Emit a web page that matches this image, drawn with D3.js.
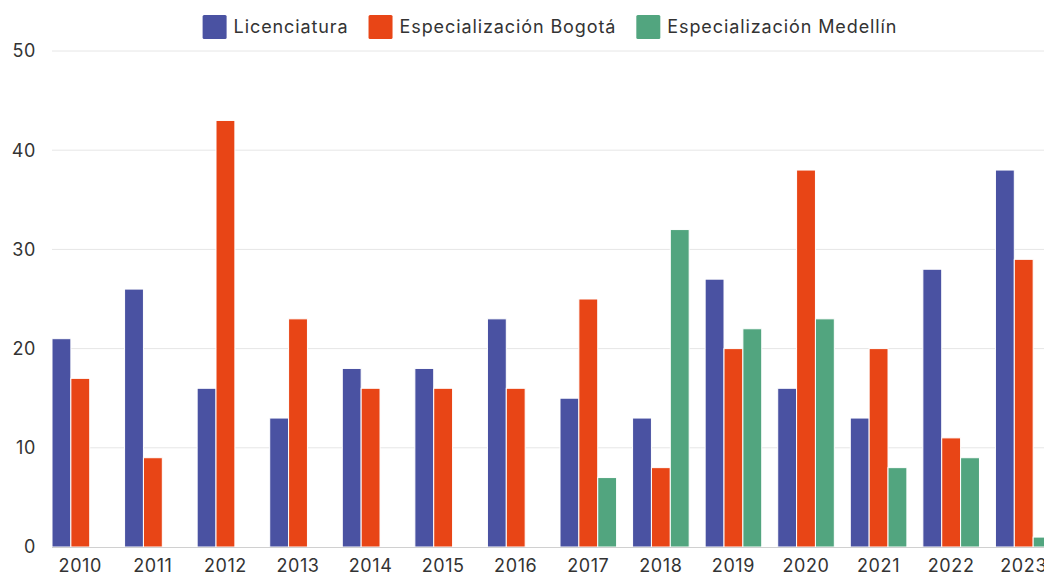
<!DOCTYPE html>
<html>
<head>
<meta charset="utf-8">
<script src="https://cdn.jsdelivr.net/npm/d3@7"></script>
<style>
  body { margin: 0; background: #fff; }
  text { font-family: "Inter", "Noto Sans", sans-serif; fill: #333; }
</style>
</head>
<body>
<svg id="chart"></svg>
<script>
var width = 1044, height = 575;

// data
var years = ['2010', '2011', '2012', '2013', '2014', '2015', '2016', '2017', '2018', '2019', '2020', '2021', '2022', '2023'];
var series = ['Licenciatura', 'Especialización Bogotá', 'Especialización Medellín'];
var licenciatura = [21, 26, 16, 13, 18, 18, 23, 15, 13, 27, 16, 13, 28, 38];
var bogota = [17, 9, 43, 23, 16, 16, 16, 25, 8, 20, 38, 20, 11, 29];
var medellin = [0, 0, 0, 0, 0, 0, 0, 7, 32, 22, 23, 8, 9, 1];
var yTicks = [0, 10, 20, 30, 40, 50];
var colors = ['#4a52a2', '#e84516', '#52a57f'];

var values = [licenciatura, bogota, medellin];

var svg = d3.select('#chart')
    .attr('width', width)
    .attr('height', height);

var x = d3.scaleBand().domain(years).range([44, 1060]).padding(0);
var x1 = d3.scaleBand().domain(series).range([8, 64.6]).padding(0);
var y = d3.scaleLinear().domain([0, 50]).range([547, 51]);

// grid lines
svg.append('g')
    .selectAll('line')
    .data(yTicks.slice(1))
    .enter().append('line')
    .attr('x1', 52)
    .attr('x2', width)
    .attr('y1', function (d) { return y(d); })
    .attr('y2', function (d) { return y(d); })
    .attr('stroke', '#e6e6e6')
    .attr('stroke-width', 1);

// y labels
svg.append('g')
    .selectAll('text')
    .data(yTicks)
    .enter().append('text')
    .attr('x', 36)
    .attr('y', function (d) { return y(d); })
    .attr('dy', '0.35em')
    .attr('text-anchor', 'end')
    .style('font-size', '18px')
    .style('letter-spacing', '0.6px')
    .text(function (d) { return d; });

// bars
var groups = svg.append('g')
    .selectAll('g')
    .data(years)
    .enter().append('g')
    .attr('transform', function (d) { return 'translate(' + x(d) + ',0)'; });

groups.selectAll('rect')
    .data(function (d, i) {
        return series.map(function (s, j) { return { key: s, value: values[j][i], idx: j }; });
    })
    .enter().append('rect')
    .filter(function (d) { return d.value > 0; })
    .attr('x', function (d) { return x1(d.key); })
    .attr('width', x1.bandwidth())
    .attr('y', function (d) { return y(d.value); })
    .attr('height', function (d) { return y(0) - y(d.value); })
    .attr('fill', function (d) { return colors[d.idx]; })
    .attr('stroke', '#fff')
    .attr('stroke-width', 1);

// x axis line
svg.append('line')
    .attr('x1', 52)
    .attr('x2', width)
    .attr('y1', y(0) + 0.5)
    .attr('y2', y(0) + 0.5)
    .attr('stroke', '#d0d0d0');

// x labels
svg.append('g')
    .selectAll('text')
    .data(years)
    .enter().append('text')
    .attr('x', function (d) { return x(d) + x.bandwidth() / 2; })
    .attr('y', 566)
    .attr('dy', '0.35em')
    .attr('text-anchor', 'middle')
    .style('font-size', '18px')
    .style('letter-spacing', '0.6px')
    .text(function (d) { return d; });

// legend
var legend = svg.append('g');
var lx = 0;
series.forEach(function (s, i) {
    var item = legend.append('g').attr('transform', 'translate(' + lx + ',0)');
    item.append('rect')
        .attr('x', 0).attr('y', 15)
        .attr('width', 24).attr('height', 24)
        .attr('rx', 1.5)
        .attr('fill', colors[i]);
    var t = item.append('text')
        .attr('x', 31)
        .attr('y', 26.5)
        .attr('dy', '0.35em')
        .style('font-size', '18px')
        .style('letter-spacing', '0.9px')
        .text(s);
    lx += 31 + t.node().getComputedTextLength() + 20;
});
var legendWidth = lx - 20;
legend.attr('transform', 'translate(' + (550 - legendWidth / 2) + ',0)');
</script>
</body>
</html>
